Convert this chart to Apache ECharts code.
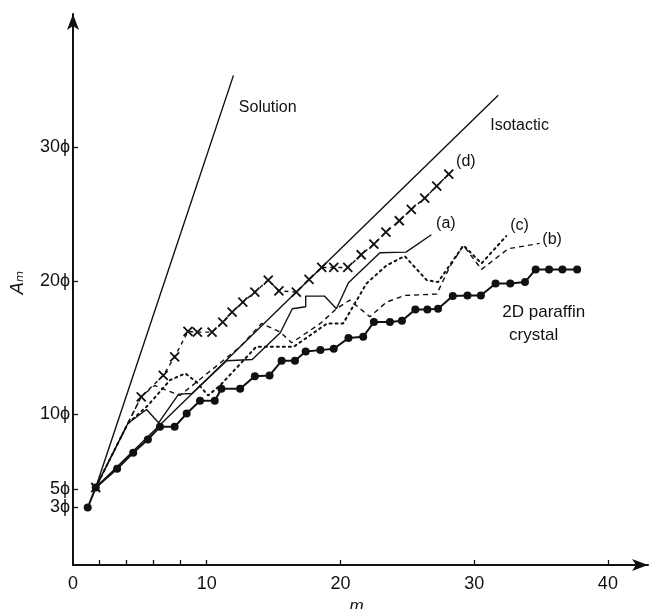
<!DOCTYPE html>
<html>
<head>
<meta charset="UTF-8">
<title></title>
<style>
  html, body { margin: 0; padding: 0; background: #fff; }
</style>
</head>
<body>
<div id="main" style="width:649px;height:609px"></div>
<script src="https://cdn.jsdelivr.net/npm/echarts@6/dist/echarts.min.js"></script>
<script type="text/javascript">
// values (m, A_m in units of phi)
var paraffinM = [1.1, 1.7, 3.3, 4.5, 5.6, 6.5, 7.6, 8.5, 9.5, 10.6, 11.1, 12.5, 13.6, 14.7, 15.6, 16.6, 17.4, 18.5, 19.5,
  20.6, 21.7, 22.5, 23.7, 24.6, 25.6, 26.5, 27.3, 28.4, 29.5, 30.5, 31.6, 32.7, 33.8, 34.6, 35.6, 36.6, 37.7];
var paraffinA = [3.0, 4.5, 5.9, 7.1, 8.1, 9.05, 9.05, 10.05, 11.0, 11.0, 11.9, 11.9, 12.85, 12.9, 14.0, 14.0, 14.7, 14.8, 14.9,
  15.7, 15.8, 16.9, 16.9, 17.0, 17.85, 17.85, 17.9, 18.85, 18.9, 18.9, 19.8, 19.8, 19.9, 20.85, 20.85, 20.85, 20.85];

var dM = [1.7, 5.1, 6.75, 7.6, 8.6, 9.3, 10.4, 11.2, 11.9, 12.7, 13.6, 14.6, 15.4, 16.7, 17.65, 18.6, 19.5, 20.55,
  21.55, 22.5, 23.4, 24.4, 25.3, 26.3, 27.2, 28.1];
var dA = [4.5, 11.3, 12.9, 14.3, 16.2, 16.15, 16.15, 16.9, 17.65, 18.4, 19.15, 20.05, 19.25, 19.15, 20.1, 21.0, 21.0, 21.0,
  21.95, 22.75, 23.65, 24.5, 25.35, 26.2, 27.1, 28.0];

var aM = [1.7, 4.1, 5.5, 6.4, 7.9, 8.9, 11.5, 13.4, 15.5, 16.4, 17.4, 17.4, 18.8, 19.7, 20.6, 22.95, 24.9, 26.8];
var aA = [4.5, 9.3, 10.35, 9.35, 11.5, 11.55, 14.0, 14.1, 16.1, 17.9, 18.05, 18.85, 18.85, 17.9, 19.85, 22.1, 22.15, 23.45];

var bM = [1.7, 4.1, 5.1, 6.1, 8.0, 12.5, 14.1, 15.5, 16.35, 18.5, 19.7, 20.7, 22.2, 23.45, 24.8, 27.2, 28.2, 29.2, 30.55, 32.55, 34.9];
var bA = [4.5, 9.3, 11.3, 12.15, 11.4, 15.05, 16.8, 16.15, 15.35, 16.8, 17.9, 18.55, 17.3, 18.4, 18.9, 19.0, 21.1, 22.65, 20.85, 22.4, 22.8];

var cM = [1.7, 4.1, 5.6, 7.25, 8.4, 9.25, 10.1, 11.0, 13.0, 13.7, 16.5, 19.0, 20.2, 21.95, 23.45, 24.8, 26.45, 27.3, 29.2, 30.55, 32.4];
var cA = [4.5, 9.3, 10.65, 12.55, 13.05, 12.4, 11.4, 12.15, 14.3, 15.05, 15.05, 16.8, 16.8, 19.8, 21.15, 21.85, 20.05, 19.9, 22.65, 21.3, 23.35];

var solutionM = [1.7, 12.0];
var solutionA = [4.5, 35.4];
var isotacticM = [1.7, 31.8];
var isotacticA = [4.5, 33.9];

var xTickValues = [2, 4, 6, 8, 10, 20, 30, 40];
var xLabelValues = [0, 10, 20, 30, 40];
var yTickValues = [3, 4.4, 10, 20, 30];
var yTickLabels = ['3ϕ', '5ϕ', '10ϕ', '20ϕ', '30ϕ'];

// annotations: text, m, A, align, size
var notes = [
  ['Solution', 12.4, 33.0, 'left', 16],
  ['Isotactic', 31.2, 31.6, 'left', 16],
  ['(d)', 28.65, 28.9, 'left', 16],
  ['(a)', 27.15, 24.3, 'left', 16],
  ['(c)', 32.7, 24.15, 'left', 16],
  ['(b)', 35.1, 23.1, 'left', 16],
  ['2D paraffin', 35.2, 17.65, 'center', 17],
  ['crystal', 34.45, 15.9, 'center', 17]
];

function pairs(xs, ys) {
  var out = [];
  for (var i = 0; i < xs.length; i++) out.push([xs[i], ys[i]]);
  return out;
}

var fontFam = 'Liberation Sans';
var ink = '#111';

var myChart = echarts.init(document.getElementById('main'));

var option = {
  animation: false,
  backgroundColor: '#fff',
  grid: { left: 73, right: 1, top: 14, bottom: 44, outerBoundsMode: 'none', containLabel: false },
  xAxis: {
    type: 'value',
    min: 0,
    max: 43,
    name: 'm',
    nameLocation: 'middle',
    nameGap: 22,
    nameTextStyle: { color: ink, fontSize: 17, fontStyle: 'italic', fontFamily: fontFam, padding: [0, 8, 0, 0] },
    axisLine: {
      onZero: false,
      symbol: ['none', 'arrow'],
      symbolSize: [9, 16],
      lineStyle: { color: ink, width: 2 }
    },
    axisTick: { inside: true, length: 5, customValues: xTickValues, lineStyle: { color: ink, width: 1.3 } },
    axisLabel: {
      customValues: xLabelValues,
      color: ink, fontSize: 18, fontFamily: fontFam, margin: 10
    },
    splitLine: { show: false }
  },
  yAxis: {
    type: 'value',
    min: -1.31,
    max: 40,
    name: 'Aₘ',
    nameLocation: 'middle',
    nameRotate: 90,
    nameGap: 46,
    nameTextStyle: { color: ink, fontSize: 18, fontStyle: 'italic', fontFamily: 'DejaVu Sans', padding: [0, 0, 0, 14] },
    axisLine: {
      onZero: false,
      symbol: ['none', 'arrow'],
      symbolSize: [9, 16],
      lineStyle: { color: ink, width: 2 }
    },
    axisTick: { inside: true, length: 5, customValues: yTickValues, lineStyle: { color: ink, width: 1.3 } },
    axisLabel: {
      customValues: yTickValues,
      color: ink, fontSize: 18, fontFamily: fontFam, margin: 3,
      formatter: function (v) {
        var i = yTickValues.indexOf(v);
        return i >= 0 ? yTickLabels[i] : '';
      }
    },
    splitLine: { show: false }
  },
  series: [
    {
      name: 'Solution', type: 'line', data: pairs(solutionM, solutionA),
      symbol: 'none', lineStyle: { color: ink, width: 1.4 }, z: 2
    },
    {
      name: 'Isotactic', type: 'line', data: pairs(isotacticM, isotacticA),
      symbol: 'none', lineStyle: { color: ink, width: 1.4 }, z: 2
    },
    {
      name: '(a)', type: 'line', data: pairs(aM, aA),
      symbol: 'none', lineStyle: { color: ink, width: 1.4 }, z: 3
    },
    {
      name: '(b)', type: 'line', data: pairs(bM, bA),
      symbol: 'none', lineStyle: { color: ink, width: 1.4, type: [5, 4] }, z: 3
    },
    {
      name: '(c)', type: 'line', data: pairs(cM, cA),
      symbol: 'none', lineStyle: { color: ink, width: 2, type: [2, 4], cap: 'round' }, z: 3
    },
    {
      name: '(d)', type: 'line', data: pairs(dM, dA),
      symbol: 'path://M0,0L10,10M10,0L0,10', symbolSize: 9, showAllSymbol: true,
      itemStyle: { color: 'none', borderColor: ink, borderWidth: 1.8 },
      lineStyle: { color: ink, width: 1.4, type: [4, 4] }, z: 4
    },
    {
      name: '2D paraffin crystal', type: 'line', data: pairs(paraffinM, paraffinA),
      symbol: 'circle', symbolSize: 8, showAllSymbol: true,
      itemStyle: { color: ink, borderWidth: 0 },
      lineStyle: { color: ink, width: 2 }, z: 5
    }
  ]
};

myChart.setOption(option);

// text annotations placed at data coordinates
var texts = notes.map(function (n) {
  var p = myChart.convertToPixel({ gridIndex: 0 }, [n[1], n[2]]);
  return {
    type: 'text', x: p[0], y: p[1], silent: true,
    style: {
      text: n[0], fill: ink, fontSize: n[4], fontFamily: fontFam,
      align: n[3], verticalAlign: 'middle'
    }
  };
});
myChart.setOption({ graphic: texts });
</script>
</body>
</html>
